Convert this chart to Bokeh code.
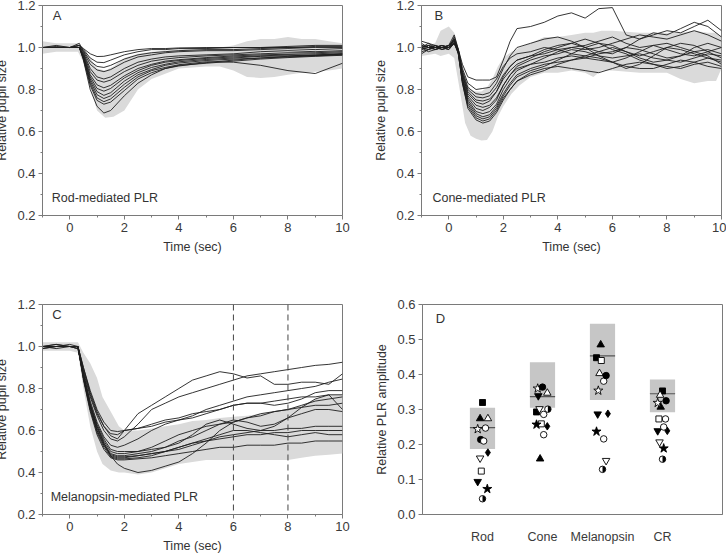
import math
from bokeh.plotting import figure
from bokeh.layouts import column, row
from bokeh.models import Range1d, FixedTicker, Label, Span, PrintfTickFormatter
from bokeh.embed import file_html
from bokeh.resources import INLINE

FONT = "Liberation Sans"
AX = "#7a7a7a"
TXT = "#333333"
LINE = "#1e1e1e"

# ---------------- Panel A : rod-mediated PLR ----------------
T_A = [-1.0, -0.5, 0.0, 0.35, 0.5, 0.75, 1.0, 1.25, 1.5, 2.0, 2.5, 3.0, 3.5, 4.0, 5.0, 6.0, 7.0, 8.0, 9.0, 10.0]
rod_curves = [
    [1.0, 1.0, 1.0, 1.01, 0.995, 0.97, 0.957, 0.958, 0.965, 0.98, 0.99, 0.995, 0.995, 0.998, 1.0, 1.0, 1.0, 1.005, 1.01, 1.01],
    [1.0, 1.005, 1.0, 1.01, 0.99, 0.95, 0.93, 0.928, 0.94, 0.965, 0.98, 0.99, 0.99, 0.995, 0.995, 1.0, 1.0, 1.0, 1.005, 1.005],
    [1.0, 1.0, 1.0, 1.0, 0.985, 0.935, 0.91, 0.905, 0.915, 0.945, 0.965, 0.975, 0.98, 0.985, 0.99, 0.99, 0.995, 1.0, 1.0, 1.0],
    [1.0, 1.0, 1.0, 1.02, 0.98, 0.92, 0.893, 0.885, 0.895, 0.93, 0.955, 0.965, 0.975, 0.98, 0.985, 0.985, 0.99, 0.995, 0.99, 0.995],
    [1.0, 1.0, 1.0, 1.01, 0.975, 0.9, 0.86, 0.85, 0.86, 0.9, 0.93, 0.945, 0.955, 0.96, 0.965, 0.97, 0.98, 0.985, 0.98, 0.985],
    [1.0, 1.0, 1.0, 1.0, 0.97, 0.885, 0.845, 0.835, 0.845, 0.885, 0.915, 0.935, 0.945, 0.952, 0.96, 0.965, 0.97, 0.975, 0.975, 0.98],
    [1.0, 1.01, 1.0, 1.0, 0.965, 0.87, 0.822, 0.808, 0.82, 0.865, 0.9, 0.92, 0.935, 0.942, 0.952, 0.96, 0.965, 0.968, 0.97, 0.975],
    [1.0, 1.0, 1.0, 1.0, 0.96, 0.86, 0.805, 0.792, 0.805, 0.855, 0.89, 0.915, 0.93, 0.938, 0.948, 0.955, 0.96, 0.965, 0.962, 0.97],
    [1.0, 1.0, 1.0, 1.0, 0.955, 0.85, 0.79, 0.772, 0.785, 0.84, 0.88, 0.905, 0.92, 0.932, 0.943, 0.95, 0.958, 0.96, 0.965, 0.97],
    [1.0, 1.0, 1.0, 1.0, 0.95, 0.84, 0.775, 0.757, 0.77, 0.825, 0.87, 0.895, 0.915, 0.926, 0.938, 0.945, 0.95, 0.955, 0.96, 0.965],
    [1.0, 1.0, 1.0, 1.0, 0.95, 0.83, 0.76, 0.742, 0.755, 0.81, 0.86, 0.89, 0.905, 0.918, 0.932, 0.93, 0.915, 0.89, 0.876, 0.925],
    [1.0, 1.0, 1.0, 1.0, 0.945, 0.82, 0.748, 0.73, 0.74, 0.795, 0.85, 0.88, 0.9, 0.912, 0.928, 0.94, 0.95, 0.958, 0.963, 0.968],
    [1.0, 1.0, 1.0, 1.0, 0.94, 0.8, 0.72, 0.688, 0.7, 0.77, 0.83, 0.87, 0.9, 0.915, 0.925, 0.935, 0.945, 0.952, 0.958, 0.963],
]
band_A_t = [-1.0, -0.5, 0.0, 0.3, 0.5, 0.8, 1.0, 1.3, 1.6, 2.0, 2.5, 3.0, 4.0, 5.0, 5.5, 6.0, 6.5, 7.0, 7.5, 8.0, 8.5, 9.0, 9.5, 10.0]
band_A_hi = [1.03, 1.02, 1.02, 1.02, 1.0, 0.94, 0.9, 0.89, 0.91, 0.95, 0.97, 0.98, 0.99, 1.0, 1.0, 1.01, 1.03, 1.04, 1.04, 1.05, 1.04, 1.04, 1.03, 1.02]
band_A_lo = [0.97, 0.98, 0.98, 0.98, 0.93, 0.79, 0.7, 0.665, 0.67, 0.7, 0.8, 0.85, 0.9, 0.91, 0.91, 0.89, 0.86, 0.855, 0.86, 0.87, 0.88, 0.885, 0.89, 0.9]

# ---------------- Panel B : cone-mediated PLR ----------------
T_B = [-1.0, -0.75, -0.5, -0.25, 0.0, 0.2, 0.35, 0.5, 0.7, 1.0, 1.25, 1.5, 1.75, 2.0, 2.25, 2.5, 3.0, 3.5,
       4.0, 4.5, 5.0, 5.5, 6.0, 6.5, 7.0, 7.5, 8.0, 8.5, 9.0, 9.5, 10.0]
cone_curves = [
    [1.01, 1.0, 0.99, 1.0, 1.0, 1.02, 0.99, 0.92, 0.86, 0.845, 0.845, 0.845, 0.86, 0.94, 1.03, 1.09, 1.1, 1.12, 1.15, 1.165, 1.14, 1.185, 1.19, 1.06, 1.04, 1.07, 1.06, 1.09, 1.12, 1.1, 1.05],
    [0.99, 1.01, 1.0, 1.0, 1.01, 1.04, 0.99, 0.9, 0.83, 0.8, 0.805, 0.81, 0.85, 0.91, 0.95, 0.97, 0.98, 1.0, 0.99, 0.97, 0.96, 0.98, 1.0, 0.98, 0.95, 0.93, 0.94, 0.96, 0.98, 0.99, 0.97],
    [1.0, 1.02, 1.01, 1.0, 1.0, 1.02, 0.98, 0.89, 0.81, 0.78, 0.775, 0.785, 0.83, 0.9, 0.96, 1.0, 1.02, 1.04, 1.05, 1.03, 1.0, 0.98, 0.97, 1.0, 1.04, 1.06, 1.08, 1.07, 1.1, 1.13, 1.08],
    [1.03, 1.02, 1.0, 0.99, 1.0, 1.05, 0.99, 0.88, 0.8, 0.765, 0.76, 0.77, 0.81, 0.87, 0.91, 0.94, 0.96, 0.99, 1.01, 1.02, 1.0, 0.96, 0.93, 0.9, 0.92, 0.96, 1.0, 1.02, 1.01, 0.98, 0.95],
    [1.0, 0.99, 1.0, 1.01, 1.0, 1.03, 0.98, 0.87, 0.79, 0.75, 0.745, 0.755, 0.79, 0.85, 0.89, 0.92, 0.95, 0.98, 1.0, 1.02, 1.04, 1.02, 0.99, 0.97, 0.94, 0.92, 0.9, 0.91, 0.93, 0.95, 0.93],
    [0.98, 0.99, 1.01, 1.0, 0.99, 1.02, 0.98, 0.87, 0.78, 0.74, 0.73, 0.745, 0.79, 0.86, 0.91, 0.94, 0.96, 0.97, 0.99, 1.0, 1.01, 1.03, 1.05, 1.02, 1.0, 1.01, 1.02, 1.0, 0.98, 0.96, 0.92],
    [1.02, 1.0, 1.0, 1.0, 1.01, 1.06, 0.99, 0.86, 0.77, 0.725, 0.715, 0.725, 0.76, 0.82, 0.87, 0.9, 0.92, 0.93, 0.95, 0.96, 0.95, 0.97, 0.98, 1.0, 0.99, 0.97, 0.95, 0.96, 1.0, 1.02, 1.0],
    [1.0, 1.01, 0.99, 1.0, 1.0, 1.03, 0.98, 0.85, 0.76, 0.71, 0.7, 0.715, 0.75, 0.82, 0.87, 0.91, 0.94, 0.96, 0.97, 0.99, 0.98, 0.96, 0.95, 0.96, 0.97, 0.95, 0.94, 0.93, 0.95, 0.97, 0.96],
    [0.99, 1.0, 1.0, 1.01, 1.0, 1.02, 0.98, 0.85, 0.75, 0.695, 0.685, 0.695, 0.73, 0.8, 0.85, 0.89, 0.92, 0.95, 0.98, 1.0, 0.99, 1.0, 1.02, 1.04, 1.06, 1.05, 1.04, 1.06, 1.08, 1.06, 1.03],
    [1.01, 1.0, 1.01, 0.99, 1.0, 1.04, 0.98, 0.84, 0.74, 0.685, 0.67, 0.68, 0.72, 0.78, 0.83, 0.87, 0.9, 0.92, 0.93, 0.94, 0.95, 0.94, 0.93, 0.91, 0.9, 0.9, 0.92, 0.94, 0.93, 0.91, 0.9],
    [1.0, 0.98, 0.99, 1.0, 1.01, 1.03, 0.97, 0.84, 0.73, 0.675, 0.66, 0.67, 0.71, 0.77, 0.82, 0.86, 0.89, 0.91, 0.94, 0.97, 1.0, 1.02, 1.01, 0.98, 0.96, 0.98, 1.0, 0.99, 0.97, 0.95, 0.94],
    [1.0, 1.01, 1.0, 1.0, 0.99, 1.02, 0.97, 0.83, 0.72, 0.665, 0.65, 0.66, 0.7, 0.76, 0.8, 0.84, 0.88, 0.9, 0.91, 0.9, 0.89, 0.88, 0.9, 0.92, 0.93, 0.92, 0.91, 0.9, 0.92, 0.93, 0.91],
    [0.97, 0.99, 1.0, 1.01, 1.0, 1.04, 0.97, 0.83, 0.71, 0.655, 0.64, 0.65, 0.69, 0.75, 0.8, 0.84, 0.87, 0.89, 0.92, 0.94, 0.96, 0.95, 0.93, 0.95, 0.98, 1.01, 0.99, 0.97, 0.96, 0.98, 1.0],
]
band_B_t = [-1.0, -0.5, -0.3, 0.0, 0.2, 0.4, 0.6, 0.8, 1.0, 1.2, 1.4, 1.6, 1.8, 2.0, 2.3, 2.6, 3.0, 3.5, 4.0,
            4.5, 5.0, 5.3, 5.6, 6.0, 7.0, 8.0, 8.5, 9.0, 9.5, 9.8, 10.0]
band_B_hi = [1.0, 1.02, 1.08, 1.1, 1.07, 0.98, 0.86, 0.8, 0.79, 0.79, 0.81, 0.85, 0.91, 0.95, 0.98, 1.0, 1.02, 1.05,
             1.05, 1.06, 1.07, 1.07, 1.08, 1.08, 1.07, 1.07, 1.07, 1.08, 1.07, 1.07, 1.05]
band_B_lo = [0.96, 0.97, 0.96, 0.97, 0.95, 0.8, 0.64, 0.58, 0.565, 0.557, 0.56, 0.6, 0.67, 0.72, 0.78, 0.82, 0.86, 0.88,
             0.88, 0.89, 0.88, 0.86, 0.89, 0.89, 0.88, 0.88, 0.85, 0.83, 0.84, 0.84, 0.9]

# ---------------- Panel C : melanopsin-mediated PLR ----------------
T_C = [-1.0, -0.5, 0.0, 0.3, 0.5, 0.75, 1.0, 1.25, 1.5, 1.75, 2.0, 2.5, 3.0, 3.5, 4.0, 4.5, 5.0, 5.5, 6.0,
       6.5, 7.0, 7.5, 8.0, 8.5, 9.0, 9.5, 10.0]
mel_curves = [
    [1.0, 1.0, 1.0, 0.99, 0.88, 0.76, 0.67, 0.6, 0.56, 0.55, 0.57, 0.63, 0.7, 0.73, 0.76, 0.78, 0.8, 0.82, 0.84, 0.86, 0.87, 0.88, 0.89, 0.9, 0.91, 0.915, 0.925],
    [1.0, 1.01, 1.0, 1.0, 0.9, 0.78, 0.69, 0.62, 0.575, 0.56, 0.6, 0.68, 0.72, 0.76, 0.8, 0.84, 0.86, 0.88, 0.87, 0.85, 0.86, 0.82, 0.82, 0.83, 0.83, 0.82, 0.87],
    [0.99, 1.0, 1.0, 1.0, 0.89, 0.77, 0.68, 0.62, 0.585, 0.58, 0.6, 0.61, 0.62, 0.64, 0.65, 0.67, 0.7, 0.72, 0.74, 0.76, 0.77, 0.78, 0.79, 0.8, 0.81, 0.83, 0.845],
    [1.0, 1.0, 1.01, 1.0, 0.9, 0.79, 0.7, 0.64, 0.6, 0.595, 0.6, 0.61, 0.63, 0.65, 0.66, 0.68, 0.69, 0.7, 0.72, 0.73, 0.73, 0.72, 0.73, 0.75, 0.78, 0.79, 0.79],
    [1.0, 1.0, 1.0, 0.99, 0.87, 0.74, 0.64, 0.57, 0.53, 0.52, 0.53, 0.56, 0.6, 0.63, 0.65, 0.66, 0.68, 0.7, 0.72, 0.73, 0.73, 0.74, 0.75, 0.76, 0.76, 0.77, 0.77],
    [1.0, 1.0, 1.0, 1.0, 0.87, 0.73, 0.63, 0.56, 0.51, 0.5, 0.5, 0.5, 0.51, 0.52, 0.54, 0.58, 0.63, 0.65, 0.63, 0.61, 0.6, 0.62, 0.66, 0.71, 0.75, 0.77, 0.7],
    [1.0, 0.99, 1.0, 1.0, 0.86, 0.72, 0.62, 0.55, 0.5, 0.49, 0.49, 0.5, 0.52, 0.55, 0.58, 0.6, 0.62, 0.63, 0.64, 0.66, 0.68, 0.69, 0.7, 0.71, 0.72, 0.72, 0.73],
    [1.0, 1.0, 1.0, 0.99, 0.86, 0.72, 0.61, 0.54, 0.49, 0.48, 0.48, 0.49, 0.5, 0.52, 0.55, 0.57, 0.6, 0.63, 0.65, 0.64, 0.62, 0.63, 0.66, 0.68, 0.7, 0.7, 0.69],
    [1.0, 1.0, 1.0, 1.0, 0.85, 0.71, 0.6, 0.53, 0.485, 0.475, 0.475, 0.48, 0.49, 0.5, 0.52, 0.54, 0.55, 0.57, 0.58, 0.59, 0.6, 0.6, 0.61, 0.61, 0.62, 0.62, 0.62],
    [1.0, 1.0, 1.0, 1.0, 0.85, 0.7, 0.6, 0.53, 0.48, 0.47, 0.47, 0.48, 0.49, 0.5, 0.51, 0.53, 0.55, 0.56, 0.57, 0.58, 0.58, 0.59, 0.59, 0.6, 0.6, 0.6, 0.6],
    [1.0, 1.01, 1.0, 1.0, 0.85, 0.7, 0.59, 0.52, 0.475, 0.465, 0.465, 0.47, 0.48, 0.5, 0.52, 0.54, 0.56, 0.58, 0.6, 0.6, 0.59, 0.58, 0.57, 0.58, 0.59, 0.58, 0.58],
    [0.99, 1.0, 1.0, 1.0, 0.84, 0.69, 0.58, 0.51, 0.47, 0.46, 0.46, 0.465, 0.47, 0.48, 0.49, 0.5, 0.51, 0.52, 0.52, 0.53, 0.53, 0.53, 0.54, 0.54, 0.55, 0.55, 0.55],
    [1.0, 1.0, 1.0, 1.0, 0.86, 0.72, 0.62, 0.54, 0.48, 0.44, 0.42, 0.4, 0.41, 0.43, 0.45, 0.49, 0.54, 0.6, 0.64, 0.66, 0.67, 0.69, 0.7, 0.72, 0.74, 0.75, 0.76],
]
band_C_t = [-1.0, -0.5, 0.0, 0.3, 0.5, 0.75, 1.0, 1.2, 1.5, 1.8, 2.0, 2.5, 3.0, 3.5, 4.0, 4.5, 5.0, 5.5, 6.0, 6.5,
            7.0, 7.5, 8.0, 8.5, 9.0, 9.5, 10.0]
band_C_hi = [1.02, 1.02, 1.02, 1.02, 0.97, 0.92, 0.85, 0.76, 0.69, 0.62, 0.6, 0.6, 0.61, 0.62, 0.63, 0.645, 0.65, 0.66,
             0.665, 0.67, 0.68, 0.69, 0.7, 0.72, 0.75, 0.77, 0.77]
band_C_lo = [0.98, 0.98, 0.98, 0.97, 0.8, 0.62, 0.5, 0.44, 0.41, 0.4, 0.4, 0.39, 0.4, 0.42, 0.44, 0.45, 0.46, 0.46,
             0.46, 0.46, 0.46, 0.46, 0.46, 0.47, 0.48, 0.485, 0.49]
dash_times = [6, 8]

# ---------------- Panel D : relative PLR amplitude ----------------
categories = ["Rod", "Cone", "Melanopsin", "CR"]
box_lo = [0.187, 0.305, 0.327, 0.292]
box_hi = [0.305, 0.435, 0.545, 0.386]
box_mean = [0.248, 0.337, 0.453, 0.345]
# marker of each of the 13 subjects: (shape, filled)
subj_shape = ["square", "triangle", "triangle", "star", "circle", "circle", "diamond",
              "inverted_triangle", "square", "inverted_triangle", "star", "half", "circle"]
subj_filled = [True, True, False, False, False, True, True, False, False, True, True, None, False]
amp_rod = [0.32, 0.274, 0.274, 0.244, 0.247, 0.214, 0.177, 0.161, 0.124, 0.094, 0.073, 0.045, 0.21]
amp_cone = [0.293, 0.159, 0.347, 0.36, 0.228, 0.364, 0.252, 0.302, 0.259, 0.339, 0.257, 0.301, 0.286]
amp_mel = [0.448, 0.485, 0.403, 0.354, 0.381, 0.397, 0.288, 0.154, 0.44, 0.287, 0.237, 0.129, 0.216]
amp_cr = [0.353, 0.307, 0.341, 0.319, 0.273, 0.325, 0.239, 0.207, 0.273, 0.239, 0.189, 0.158, 0.25]
# horizontal scatter of the symbols within a category (category units)
jit_rod = [0.0, -0.04, 0.09, -0.08, 0.05, -0.03, 0.09, -0.04, -0.02, -0.08, 0.08, 0.0, 0.02]
jit_cone = [-0.1, -0.04, 0.08, -0.08, 0.02, 0.0, 0.08, -0.05, -0.02, -0.07, -0.1, 0.09, 0.02]
jit_mel = [-0.1, -0.03, -0.05, -0.07, 0.02, 0.06, 0.09, 0.06, -0.02, -0.08, -0.1, 0.0, 0.02]
jit_cr = [0.0, -0.03, -0.04, -0.08, 0.05, 0.06, 0.08, -0.05, -0.06, -0.08, 0.02, 0.0, 0.02]


def style_axes(p):
    for ax in (p.xaxis[0], p.yaxis[0]):
        ax.axis_line_color = AX
        ax.major_tick_line_color = AX
        ax.minor_tick_line_color = AX
        ax.major_tick_out = 4
        ax.major_tick_in = 0
        ax.minor_tick_out = 2
        ax.minor_tick_in = 0
        ax.major_label_text_font = FONT
        ax.major_label_text_font_size = "13px"
        ax.major_label_text_color = "#3a3a3a"
        ax.axis_label_text_font = FONT
        ax.axis_label_text_font_size = "12.5px"
        ax.axis_label_text_font_style = "normal"
        ax.axis_label_text_color = TXT
        ax.major_label_standoff = 3
        ax.axis_label_standoff = 5
    p.outline_line_color = AX
    p.outline_line_width = 1
    p.xgrid.visible = False
    p.ygrid.visible = False


def new_fig(xr, yr, left, right, top, bottom):
    return figure(frame_width=300, frame_height=210, x_range=xr, y_range=yr,
                  output_backend="svg", toolbar_location=None,
                  min_border_left=left, min_border_right=right,
                  min_border_top=top, min_border_bottom=bottom,
                  background_fill_color="white", border_fill_color="white")


def time_panel(letter, caption, T, curves, bt, blo, bhi, left, right, top, bottom, let_x, cap_x, dashes=()):
    p = new_fig(Range1d(-1, 10), Range1d(0.2, 1.2), left, right, top, bottom)
    p.varea(x=bt, y1=blo, y2=bhi, fill_color="#dadada")
    for d in dashes:
        p.add_layout(Span(location=d, dimension="height", line_color="#444444",
                          line_dash="6 4", line_width=1))
    p.multi_line(xs=[T] * len(curves), ys=curves, line_color=LINE, line_width=0.9)
    style_axes(p)
    p.xaxis.ticker = FixedTicker(ticks=[0, 2, 4, 6, 8, 10], minor_ticks=[-1, 1, 3, 5, 7, 9])
    p.yaxis.ticker = FixedTicker(ticks=[0.2, 0.4, 0.6, 0.8, 1.0, 1.2], minor_ticks=[0.3, 0.5, 0.7, 0.9, 1.1])
    p.yaxis.formatter = PrintfTickFormatter(format="%.1f")
    p.xaxis.axis_label = "Time (sec)"
    p.yaxis.axis_label = "Relative pupil size"
    p.add_layout(Label(x=let_x, y=1.115, text=letter, text_font=FONT, text_font_size="13px",
                       text_color=TXT))
    p.add_layout(Label(x=cap_x, y=0.25, text=caption, text_font=FONT, text_font_size="12.5px",
                       text_color=TXT))
    return p


pa = time_panel("A", "Rod-mediated PLR", T_A, rod_curves, band_A_t, band_A_lo, band_A_hi,
                42, 21, 5, 62, -0.62, -0.66)
pb = time_panel("B", "Cone-mediated PLR", T_B, cone_curves, band_B_t, band_B_lo, band_B_hi,
                58, 5, 5, 62, -0.52, -0.6)
pc = time_panel("C", "Melanopsin-mediated PLR", T_C, mel_curves, band_C_t, band_C_lo, band_C_hi,
                42, 21, 27, 38, -0.64, -0.7, dashes=dash_times)

# Panel D
pd_ = new_fig(Range1d(0, 5), Range1d(0, 0.6), 59, 4, 27, 38)
cat_x = [1, 2, 3, 4]
half_w = 0.21
pd_.quad(left=[c - half_w for c in cat_x], right=[c + half_w for c in cat_x],
         bottom=box_lo, top=box_hi, fill_color="#c6c6c6", line_color=None)
pd_.segment(x0=[c - half_w for c in cat_x], x1=[c + half_w for c in cat_x],
            y0=box_mean, y1=box_mean, line_color="#555555", line_width=1.2)
amps = [amp_rod, amp_cone, amp_mel, amp_cr]
jits = [jit_rod, jit_cone, jit_mel, jit_cr]
sizes = {"square": 6, "triangle": 7.5, "inverted_triangle": 7.5, "star": 9.5, "circle": 6.5, "diamond": 7.5}
for i in range(13):
    xs = [cat_x[k] + jits[k][i] for k in range(4)]
    ys = [amps[k][i] for k in range(4)]
    shape = subj_shape[i]
    if shape == "half":
        pd_.scatter(xs, ys, marker="circle", size=6.5, fill_color="white", line_color="black", line_width=0.9)
        pd_.wedge(x=xs, y=ys, radius=3.1, radius_units="screen", start_angle=-math.pi / 2,
                  end_angle=math.pi / 2, fill_color="black", line_color=None)
    else:
        pd_.scatter(xs, ys, marker=shape, size=sizes[shape],
                    fill_color="black" if subj_filled[i] else "white",
                    line_color="black", line_width=0.9)
style_axes(pd_)
pd_.yaxis.ticker = FixedTicker(ticks=[0.0, 0.1, 0.2, 0.3, 0.4, 0.5, 0.6], minor_ticks=[])
pd_.yaxis.formatter = PrintfTickFormatter(format="%.1f")
pd_.xaxis.ticker = FixedTicker(ticks=cat_x, minor_ticks=[])
pd_.xaxis.major_label_overrides = {c: n for c, n in zip(cat_x, categories)}
pd_.xaxis.major_tick_line_color = None
pd_.xaxis.major_label_standoff = 11
pd_.xaxis.major_label_text_font_size = "12.5px"
pd_.yaxis.axis_label = "Relative PLR amplitude"
pd_.add_layout(Label(x=0.22, y=0.54, text="D", text_font=FONT, text_font_size="13px", text_color=TXT))

layout = column(row(pa, pb), row(pc, pd_))
layout.margin = (0, -8, -8, -8)

open("out.html", "w").write(file_html(layout, INLINE))
